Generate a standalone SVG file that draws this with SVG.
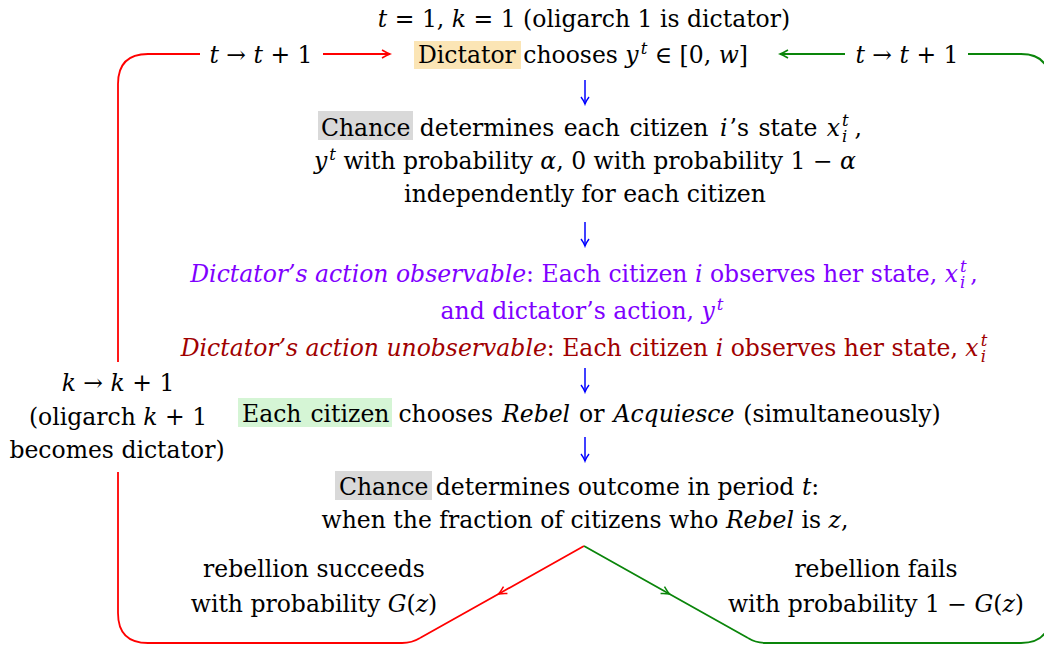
<svg xmlns="http://www.w3.org/2000/svg" width="1044" height="646" viewBox="0 0 1044 646">
  <style>
    .t { font-family: "DejaVu Serif", "Liberation Serif", serif; font-size: 23.5px; fill: #000; }
    .i { font-style: italic; }
    .s { font-size: 16.5px; }
    .purple { fill: #7f00ff; }
    .dred { fill: #a00000; }
    .red { stroke: #ff0000; stroke-width: 1.8; fill: none; }
    .green { stroke: #0a850a; stroke-width: 1.8; fill: none; }
    .blue { stroke: #0000ff; stroke-width: 1.5; fill: none; }
  </style>
  <defs>
    <marker id="toRed" viewBox="-10 -6 12 12" refX="0" refY="0" markerWidth="12" markerHeight="12" orient="auto" markerUnits="userSpaceOnUse">
      <path d="M-8,-4 Q-3,-1 0,0 Q-3,1 -8,4" fill="none" stroke="#ff0000" stroke-width="1.5"/>
    </marker>
    <marker id="toGreen" viewBox="-10 -6 12 12" refX="0" refY="0" markerWidth="12" markerHeight="12" orient="auto" markerUnits="userSpaceOnUse">
      <path d="M-8,-4 Q-3,-1 0,0 Q-3,1 -8,4" fill="none" stroke="#0a850a" stroke-width="1.5"/>
    </marker>
    <marker id="toBlue" viewBox="-10 -6 12 12" refX="0" refY="0" markerWidth="12" markerHeight="12" orient="auto" markerUnits="userSpaceOnUse">
      <path d="M-7,-4 Q-3,-1 0,0 Q-3,1 -7,4" fill="none" stroke="#0000ff" stroke-width="1.4"/>
    </marker>
  </defs>

  <g id="connectors">
    <!-- red loop -->
    <path class="red" d="M584,546 L498.5,594 L420,638" marker-mid="url(#toRed)"/>
    <path class="red" d="M420,638 Q412,643 402,643 L148,643 Q118,643 118,613 L118,472"/>
    <path class="red" d="M118,362 L118,84 Q118,54 148,54 L200,54"/>
    <path class="red" d="M323,54 L390,54" marker-end="url(#toRed)"/>
    <!-- green loop -->
    <path class="green" d="M584,546 L669.5,594 L748,638" marker-mid="url(#toGreen)"/>
    <path class="green" d="M748,638 Q756,643 766,643 L1021,643 Q1050,643 1050,614 L1050,84 Q1050,54 1021,54 L968,54"/>
    <path class="green" d="M845,54 L780,54" marker-end="url(#toGreen)"/>
    <!-- blue down arrows -->
    <path class="blue" d="M585,80 L585,104" marker-end="url(#toBlue)"/>
    <path class="blue" d="M585,222 L585,246" marker-end="url(#toBlue)"/>
    <path class="blue" d="M585,368 L585,392" marker-end="url(#toBlue)"/>
    <path class="blue" d="M585,437 L585,461" marker-end="url(#toBlue)"/>
  </g>

  <g id="n-top">
    <text class="t" x="584" y="27" text-anchor="middle"><tspan class="i">t</tspan> = 1, <tspan class="i">k</tspan> = 1 (oligarch 1 is dictator)</text>
  </g>

  <g id="l-red">
    <text class="t" x="261" y="63" text-anchor="middle"><tspan class="i">t</tspan> → <tspan class="i">t</tspan> + 1</text>
  </g>

  <g id="l-green">
    <text class="t" x="907" y="63" text-anchor="middle"><tspan class="i">t</tspan> → <tspan class="i">t</tspan> + 1</text>
  </g>

  <g id="n-dictator">
    <rect x="414" y="41" width="107" height="28" fill="#fbe5b5"/>
    <text class="t" x="418" y="63">Dictator chooses <tspan class="i">y</tspan><tspan class="s i" dx="2" dy="-9">t</tspan><tspan dy="9"> ∈ [0, </tspan><tspan class="i">w</tspan>]</text>
  </g>

  <g id="n-chance1">
    <rect x="318" y="111" width="95" height="29" fill="#d9d9d9"/>
    <text class="t" x="321" y="136" word-spacing="2">Chance determines each citizen <tspan class="i" dx="2">i</tspan><tspan dx="2">’s state </tspan><tspan class="i">x</tspan><tspan class="s i" dx="2" dy="-10">t</tspan><tspan class="s i" dx="-6.6" dy="16">i</tspan><tspan dx="7" dy="-6">,</tspan></text>
    <text class="t" x="585" y="169" text-anchor="middle"><tspan class="i">y</tspan><tspan class="s i" dx="2" dy="-9">t</tspan><tspan dy="9"> with probability </tspan><tspan class="i">α</tspan>, 0 with probability 1 − <tspan class="i">α</tspan></text>
    <text class="t" x="585" y="202" text-anchor="middle">independently for each citizen</text>
  </g>

  <g id="n-observe">
    <text class="t purple" x="584" y="282" text-anchor="middle"><tspan class="i">Dictator’s action observable</tspan>: Each citizen <tspan class="i">i</tspan> observes her state, <tspan class="i">x</tspan><tspan class="s i" dx="2" dy="-10">t</tspan><tspan class="s i" dx="-6.6" dy="16">i</tspan><tspan dx="5" dy="-6">,</tspan></text>
    <text class="t purple" x="582" y="319" text-anchor="middle">and dictator’s action, <tspan class="i">y</tspan><tspan class="s i" dx="2" dy="-9">t</tspan></text>
    <text class="t dred" x="584" y="356" text-anchor="middle"><tspan class="i">Dictator’s action unobservable</tspan>: Each citizen <tspan class="i">i</tspan> observes her state, <tspan class="i">x</tspan><tspan class="s i" dx="2" dy="-10">t</tspan><tspan class="s i" dx="-6.6" dy="16">i</tspan></text>
  </g>

  <g id="n-rebel">
    <rect x="238" y="398" width="154" height="29" fill="#d5f5d5"/>
    <text class="t" x="242" y="422" word-spacing="1.5">Each citizen chooses <tspan class="i">Rebel</tspan> or <tspan class="i">Acquiesce</tspan> (simultaneously)</text>
  </g>

  <g id="n-outcome">
    <rect x="335" y="471" width="97" height="29" fill="#d9d9d9"/>
    <text class="t" x="339" y="495">Chance determines outcome in period <tspan class="i">t</tspan>:</text>
    <text class="t" x="585" y="528" text-anchor="middle">when the fraction of citizens who <tspan class="i">Rebel</tspan> is <tspan class="i">z</tspan>,</text>
  </g>

  <g id="n-success">
    <text class="t" x="314" y="577" text-anchor="middle">rebellion succeeds</text>
    <text class="t" x="314" y="612" text-anchor="middle">with probability <tspan class="i">G</tspan>(<tspan class="i">z</tspan>)</text>
  </g>

  <g id="n-fail">
    <text class="t" x="876" y="577" text-anchor="middle">rebellion fails</text>
    <text class="t" x="876" y="612" text-anchor="middle">with probability 1 − <tspan class="i">G</tspan>(<tspan class="i">z</tspan>)</text>
  </g>

  <g id="n-k">
    <text class="t" x="118" y="391" text-anchor="middle"><tspan class="i">k</tspan> → <tspan class="i">k</tspan> + 1</text>
    <text class="t" x="118" y="425" text-anchor="middle">(oligarch <tspan class="i">k</tspan> + 1</text>
    <text class="t" x="117" y="458" text-anchor="middle">becomes dictator)</text>
  </g>
</svg>
